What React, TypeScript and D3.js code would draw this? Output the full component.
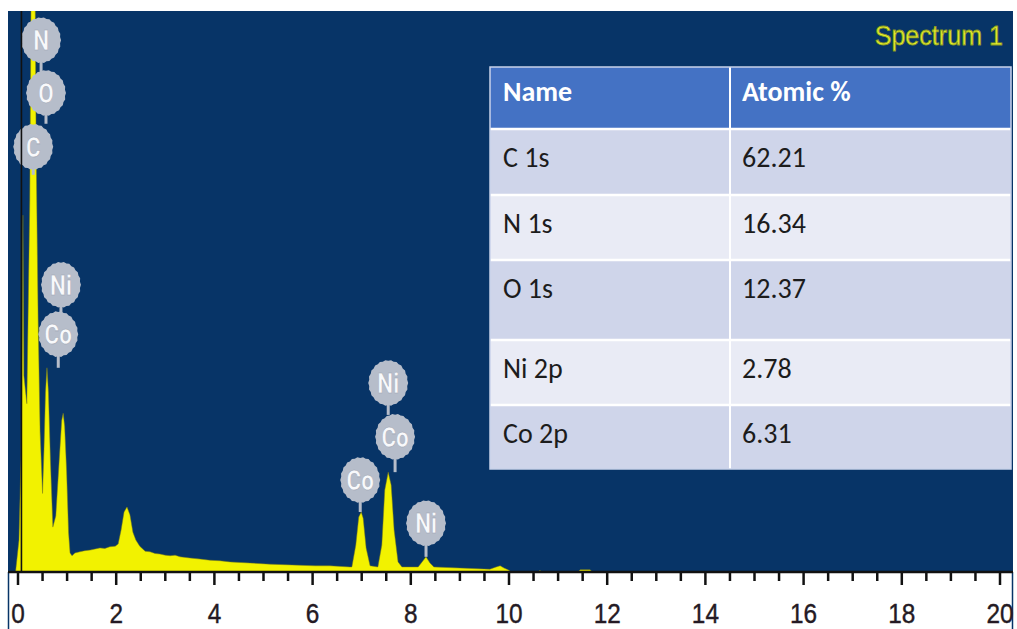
import React from "react";
import * as d3 from "d3";

// ---- data ----
const xTicks = [0, 2, 4, 6, 8, 10, 12, 14, 16, 18, 20];
const minorTicks = d3.range(0, 20.01, 0.5);

// spectrum energy (keV) and intensity (% of full scale)
const energy = [
  -0.05, 0.02, 0.06, 0.08, 0.1, 0.12, 0.18, 0.24, 0.285, 0.33, 0.37, 0.41, 0.45, 0.5, 0.53, 0.56,
  0.59, 0.62, 0.66, 0.71, 0.77, 0.84, 0.89, 0.92, 0.95, 0.99, 1.03, 1.06, 1.1, 1.16, 1.26, 1.36,
  1.47, 1.57, 1.67, 1.77, 1.87, 1.98, 2.04, 2.1, 2.16, 2.22, 2.28, 2.34, 2.4, 2.48, 2.59, 2.69,
  2.79, 2.89, 3.0, 3.1, 3.2, 3.3, 3.5, 3.71, 3.91, 4.11, 4.32, 4.52, 4.72, 5.13, 5.43, 5.74,
  6.05, 6.35, 6.76, 6.8, 6.88, 6.94, 6.99, 7.03, 7.09, 7.17, 7.33, 7.41, 7.47, 7.54, 7.6, 7.66,
  7.74, 7.82, 8.15, 8.23, 8.31, 8.39, 8.47, 9.0, 9.61, 9.74, 9.82, 9.9, 9.98, 10.05, 10.6, 10.63,
  10.66, 11.4, 11.45, 11.65, 11.7,
];
const intensity = [
  0, 5.7, 20, 35, 63.6, 35, 30, 66.3, 130, 130, 75.2, 45, 25, 14, 22, 32,
  36.4, 32, 20, 8, 10, 20, 27, 28.3, 26, 18, 7, 3.4, 2.9, 3.4, 3.6, 3.8,
  3.9, 4.1, 4.3, 4.2, 4.5, 4.6, 5.0, 7.5, 10.7, 11.6, 10.2, 7.1, 5.7, 4.6, 3.7, 3.6,
  3.3, 3.2, 3.0, 2.9, 3.0, 2.7, 2.5, 2.3, 2.1, 2.0, 1.8, 1.7, 1.6, 1.4, 1.3, 1.2,
  1.1, 1.1, 0.9, 0.9, 4.8, 9.8, 10.7, 9.6, 4.3, 1.1, 0.9, 4.8, 14.6, 17.8, 15.5, 7.5,
  1.8, 0.9, 0.9, 1.8, 2.7, 1.6, 0.9, 0.7, 0.5, 0.9, 1.1, 0.7, 0.4, 0, 0, 0.3,
  0, 0, 0.4, 0.4, 0,
];

// element badges: label, energy of badge centre, badge level, pin end level
const badgeLabels = ["N", "O", "C", "Ni", "Co", "Ni", "Co", "Co", "Ni"];
const badgeEnergy = [0.47, 0.57, 0.31, 0.875, 0.82, 7.54, 7.68, 6.97, 8.31];
const badgeLevel = [94.8, 85.4, 75.8, 51.2, 42.4, 33.7, 24.1, 16.4, 8.7];
const pinLevel = [88, 79.9, 70.8, 46.3, 36.4, 28.0, 17.8, 10.7, 2.7];

const markerEnergy = 0.07;

// table
const tableHeader = ["Name", "Atomic %"];
const tableNames = ["C 1s", "N 1s", "O 1s", "Ni 2p", "Co 2p"];
const tableValues = ["62.21", "16.34", "12.37", "2.78", "6.31"];

const title = "Spectrum 1";

// ---- layout ----
const W = 1017;
const H = 629;
const plotL = 8;
const plotR = 1013;
const plotT = 11;
const plotB = 572;

const NAVY = "#073467";
const YELLOW = "#f2f200";
const BADGE = "#b6bdca";

function badgePath(rx: number, ry: number) {
  const n = 44;
  const pts: [number, number][] = [];
  for (let i = 0; i < n; i++) {
    const a = (i / n) * Math.PI * 2;
    const k = i % 2 === 0 ? 1 : 0.96;
    pts.push([Math.cos(a) * rx * k, Math.sin(a) * ry * k]);
  }
  return "M" + pts.map((p) => p[0].toFixed(2) + "," + p[1].toFixed(2)).join("L") + "Z";
}

export default function App() {
  const x = d3.scaleLinear().domain([0, 20]).range([18, 1000]);
  const y = d3.scaleLinear().domain([0, 100]).range([plotB, plotT]);

  const data = energy.map((e, i) => ({ e, c: intensity[i] }));
  const area = d3
    .area<{ e: number; c: number }>()
    .x((d) => x(d.e))
    .y0(y(0))
    .y1((d) => y(d.c))
    .curve(d3.curveLinear);

  const rowTops = [67, 129, 195, 260, 340, 405, 469];
  const tL = 490;
  const tM = 730;
  const tR = 1011;
  const rowFills = ["#cfd5ea", "#e9ebf5", "#cfd5ea", "#e9ebf5", "#cfd5ea"];
  const tableFont = "Carlito, Lato, 'Open Sans', sans-serif";

  const bp = badgePath(20, 23);

  return (
    <svg
      width={W}
      height={H}
      style={{ position: "absolute", left: 0, top: 0, background: "#fff" }}
    >
      <defs>
        <clipPath id="plotclip">
          <rect x={plotL} y={plotT} width={plotR - plotL} height={plotB - plotT} />
        </clipPath>
      </defs>
      <rect x={0} y={0} width={W} height={H} fill="#fff" />
      <rect x={plotL} y={plotT} width={plotR - plotL} height={plotB - plotT} fill={NAVY} />
      {/* lower frame lines */}
      <line x1={plotL + 0.5} x2={plotL + 0.5} y1={plotB} y2={H} stroke={NAVY} strokeWidth={1.5} />
      <line x1={plotR - 0.5} x2={plotR - 0.5} y1={plotB} y2={H} stroke={NAVY} strokeWidth={1.5} />

      <g clipPath="url(#plotclip)">
        <path d={area(data) || ""} fill={YELLOW} stroke="#7d7d18" strokeWidth={0.8} strokeOpacity={0.6} />
      </g>

      {/* badges */}
      <g>
        {badgeLabels.map((lab, i) => (
          <line
            key={"pin" + i}
            x1={x(badgeEnergy[i])}
            x2={x(badgeEnergy[i])}
            y1={y(badgeLevel[i])}
            y2={y(pinLevel[i])}
            stroke={BADGE}
            strokeWidth={3}
          />
        ))}
        {badgeLabels.map((lab, i) => (
          <g key={"b" + i} transform={`translate(${x(badgeEnergy[i])},${y(badgeLevel[i])})`}>
            <path d={bp} fill={BADGE} />
            <text
              transform="scale(0.8,1)"
              textAnchor="middle"
              y={10}
              fontFamily="Roboto, 'DejaVu Sans', sans-serif"
              fontWeight="bold"
              fontSize={28}
              fill="#f8f9fb"
              stroke="#9aa2b0"
              strokeWidth={0.5}
            >
              {lab}
            </text>
          </g>
        ))}
      </g>

      {/* marker line */}
      <line
        x1={x(markerEnergy)}
        x2={x(markerEnergy)}
        y1={plotT}
        y2={plotB}
        stroke="#111"
        strokeWidth={1.6}
      />

      {/* x axis */}
      <line x1={plotL} x2={plotR} y1={plotB} y2={plotB} stroke="#111" strokeWidth={2.5} />
      {minorTicks.map((t) => (
        <line
          key={"mt" + t}
          x1={x(t)}
          x2={x(t)}
          y1={plotB}
          y2={plotB + (Math.abs(t % 2) < 1e-6 ? 13 : 9)}
          stroke="#111"
          strokeWidth={2.5}
        />
      ))}
      {xTicks.map((t) => (
        <text
          key={"tl" + t}
          transform={`translate(${x(t)},${623}) scale(0.87,1)`}
          textAnchor="middle"
          fontFamily="'Liberation Sans', Arial, sans-serif"
          fontSize={28}
          fill="#241a24"
          stroke="#241a24"
          strokeWidth={0.4}
        >
          {t}
        </text>
      ))}

      {/* title */}
      <text
        transform={`translate(1003,45) scale(0.93,1)`}
        textAnchor="end"
        fontFamily="'Liberation Sans', Arial, sans-serif"
        fontSize={27}
        fill="#e4ee2c"
        stroke="#8a9a20"
        strokeWidth={0.8}
      >
        {title}
      </text>

      {/* table */}
      <g>
        <rect x={tL} y={rowTops[0]} width={tR - tL} height={rowTops[1] - rowTops[0]} fill="#4472c4" />
        {tableNames.map((n, i) => (
          <rect
            key={"rf" + i}
            x={tL}
            y={rowTops[i + 1]}
            width={tR - tL}
            height={rowTops[i + 2] - rowTops[i + 1]}
            fill={rowFills[i]}
          />
        ))}
        {rowTops.slice(1, -1).map((t, i) => (
          <line key={"hl" + i} x1={tL} x2={tR} y1={t} y2={t} stroke="#fff" strokeWidth={2.5} />
        ))}
        <line x1={tM} x2={tM} y1={rowTops[0]} y2={rowTops[rowTops.length - 1]} stroke="#fff" strokeWidth={2} />
        <rect
          x={tL}
          y={rowTops[0]}
          width={tR - tL}
          height={rowTops[rowTops.length - 1] - rowTops[0]}
          fill="none"
          stroke="#c9d2ea"
          strokeWidth={1.5}
        />
        <text x={503} y={rowTops[0] + 34} fontFamily={tableFont} fontWeight="bold" fontSize={28} fill="#fff">
          {tableHeader[0]}
        </text>
        <text x={742} y={rowTops[0] + 34} fontFamily={tableFont} fontWeight="bold" fontSize={28} fill="#fff">
          {tableHeader[1]}
        </text>
        {tableNames.map((n, i) => (
          <g key={"tr" + i}>
            <text x={503} y={rowTops[i + 1] + 38} fontFamily={tableFont} fontSize={28} fill="#1c1c1c">
              {n}
            </text>
            <text x={742} y={rowTops[i + 1] + 38} fontFamily={tableFont} fontSize={28} fill="#1c1c1c">
              {tableValues[i]}
            </text>
          </g>
        ))}
      </g>
    </svg>
  );
}
